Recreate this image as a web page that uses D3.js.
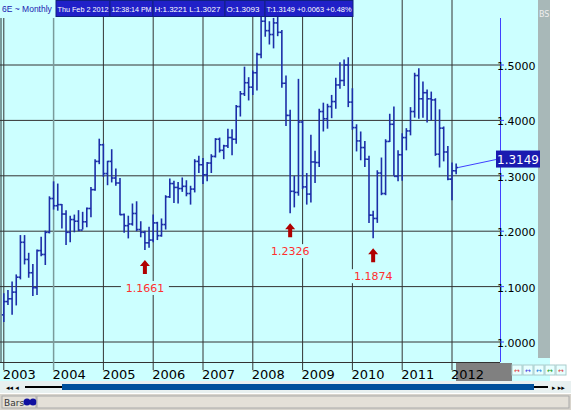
<!DOCTYPE html>
<html><head><meta charset="utf-8">
<script src="https://cdn.jsdelivr.net/npm/d3@7"></script>
<style>body{margin:0;background:#fff;font-family:"DejaVu Sans",sans-serif}</style>
</head><body><svg id="chart" width="571" height="410"></svg>
<script>
// monthly bars from Jan 2003: open, high, low, close
const opens  = [1.049,1.073,1.078,1.090,1.117,1.180,1.149,1.125,1.098,1.165,1.158,1.198,
 1.259,1.246,1.248,1.231,1.198,1.221,1.218,1.202,1.217,1.241,1.275,1.326,
 1.356,1.304,1.326,1.296,1.287,1.230,1.210,1.213,1.232,1.203,1.198,1.179,
 1.184,1.215,1.192,1.212,1.262,1.286,1.279,1.277,1.281,1.268,1.276,1.326,
 1.320,1.302,1.323,1.335,1.366,1.346,1.354,1.369,1.366,1.425,1.448,1.468,
 1.460,1.486,1.519,1.579,1.562,1.555,1.576,1.559,1.467,1.409,1.272,1.270,
 1.397,1.280,1.267,1.325,1.324,1.416,1.403,1.425,1.434,1.464,1.472,1.500,
 1.433,1.387,1.363,1.351,1.330,1.229,1.223,1.305,1.268,1.362,1.393,1.299,
 1.338,1.369,1.381,1.416,1.481,1.439,1.450,1.439,1.437,1.339,1.386,1.343,
 1.294,1.309];
const highs  = [1.088,1.094,1.109,1.122,1.193,1.193,1.161,1.141,1.167,1.190,1.201,1.263,
 1.290,1.286,1.249,1.238,1.228,1.230,1.238,1.235,1.243,1.280,1.330,1.367,
 1.358,1.327,1.348,1.313,1.296,1.232,1.228,1.250,1.254,1.218,1.201,1.208,
 1.230,1.217,1.223,1.265,1.295,1.291,1.289,1.297,1.292,1.282,1.330,1.336,
 1.332,1.325,1.339,1.368,1.369,1.356,1.385,1.384,1.428,1.453,1.497,1.478,
 1.490,1.522,1.590,1.602,1.579,1.585,1.604,1.563,1.481,1.419,1.300,1.475,
 1.400,1.305,1.374,1.345,1.421,1.432,1.430,1.446,1.477,1.505,1.510,1.514,
 1.458,1.393,1.380,1.363,1.336,1.237,1.310,1.333,1.366,1.412,1.425,1.346,
 1.377,1.386,1.424,1.486,1.494,1.470,1.456,1.452,1.440,1.420,1.389,1.354,
 1.324,1.3221];
const lows   = [1.036,1.067,1.049,1.066,1.113,1.140,1.116,1.083,1.085,1.155,1.139,1.196,
 1.239,1.237,1.205,1.175,1.180,1.198,1.200,1.203,1.207,1.225,1.273,1.321,
 1.298,1.283,1.288,1.282,1.229,1.197,1.187,1.210,1.200,1.189,1.1661,1.170,
 1.180,1.184,1.190,1.203,1.260,1.251,1.250,1.271,1.263,1.248,1.270,1.305,
 1.285,1.290,1.305,1.333,1.342,1.330,1.350,1.337,1.358,1.407,1.444,1.436,
 1.446,1.454,1.512,1.551,1.537,1.530,1.552,1.459,1.390,1.2326,1.243,1.264,
 1.276,1.248,1.252,1.287,1.316,1.380,1.385,1.404,1.421,1.457,1.462,1.424,
 1.383,1.344,1.328,1.316,1.215,1.1874,1.215,1.265,1.265,1.361,1.300,1.290,
 1.291,1.346,1.373,1.405,1.403,1.405,1.396,1.400,1.336,1.315,1.326,1.292,
 1.256,1.3027];
const closes = [1.073,1.078,1.090,1.117,1.180,1.149,1.125,1.098,1.165,1.158,1.198,1.259,
 1.246,1.248,1.231,1.198,1.221,1.218,1.202,1.217,1.241,1.275,1.326,1.356,
 1.304,1.326,1.296,1.287,1.230,1.210,1.213,1.232,1.203,1.198,1.179,1.184,
 1.215,1.192,1.212,1.262,1.286,1.279,1.277,1.281,1.268,1.276,1.326,1.320,
 1.302,1.323,1.335,1.366,1.346,1.354,1.369,1.366,1.425,1.448,1.468,1.460,
 1.486,1.519,1.579,1.562,1.555,1.576,1.559,1.467,1.409,1.272,1.270,1.397,
 1.280,1.267,1.325,1.324,1.416,1.403,1.425,1.434,1.464,1.472,1.500,1.433,
 1.387,1.363,1.351,1.330,1.229,1.223,1.305,1.268,1.362,1.393,1.299,1.338,
 1.369,1.381,1.416,1.481,1.439,1.450,1.439,1.437,1.339,1.386,1.343,1.294,
 1.309,1.3149];
const years = [2003,2004,2005,2006,2007,2008,2009,2010,2011,2012];
const priceTicks = [1.0,1.1,1.2,1.3,1.4,1.5];
const lowMarks = [34, 69, 89]; // month index of marked lows

const svg = d3.select("#chart");
const x = d3.scaleLinear().domain([0, 108]).range([3.8, 452]);
const y = d3.scaleLinear().domain([1.0, 1.5]).range([342, 65]);

svg.append("rect").attr("width",571).attr("height",410).attr("fill","#fff");
svg.append("rect").attr("x",0).attr("y",0).attr("width",550).attr("height",381).attr("fill","#ccffff");
svg.append("line").attr("x1",1).attr("x2",1).attr("y1",0).attr("y2",362).attr("stroke","#7a9a9a").attr("stroke-width",2);

const g = svg.append("g");
// grid
g.selectAll(".hg").data(priceTicks).enter().append("line")
  .attr("x1",0).attr("x2",500).attr("y1",d=>y(d)).attr("y2",d=>y(d))
  .attr("stroke","#333").attr("stroke-width",1);
g.append("line").attr("x1",0).attr("x2",500).attr("y1",362.5).attr("y2",362.5).attr("stroke","#333");
g.selectAll(".vg").data(years).enter().append("line")
  .attr("x1",d=>x((d-2003)*12)).attr("x2",d=>x((d-2003)*12))
  .attr("y1",0).attr("y2",370)
  .attr("stroke",d=>d===2004?"#7a9a9a":"#333").attr("stroke-width",d=>d===2004?1.5:1);

// right axis panel
svg.append("line").attr("x1",500.5).attr("x2",500.5).attr("y1",18).attr("y2",362).attr("stroke","#4040ff");
svg.append("rect").attr("x",538).attr("y",0).attr("width",12).attr("height",358).attr("fill","#a8b8b8");
svg.append("text").attr("x",539).attr("y",17).attr("font-size",8).attr("fill","#eee").text("BS");
svg.selectAll(".yl").data(priceTicks).enter().append("text")
  .attr("x",497).attr("y",d=>y(d)+5).attr("font-size",11).attr("fill","#000")
  .text(d=>"  " + d.toFixed(4));
svg.selectAll(".yt").data(priceTicks).enter().append("line")
  .attr("x1",500).attr("x2",504).attr("y1",d=>y(d)).attr("y2",d=>y(d)).attr("stroke","#4040ff");

// bars
const bars = g.selectAll(".bar").data(d3.range(opens.length)).enter().append("g").attr("stroke","#1c2ea8").attr("stroke-width",1.6);
bars.append("line").attr("x1",i=>x(i)).attr("x2",i=>x(i)).attr("y1",i=>y(highs[i])).attr("y2",i=>y(lows[i]));
bars.append("line").attr("x1",i=>x(i)-2).attr("x2",i=>x(i)).attr("y1",i=>y(opens[i])).attr("y2",i=>y(opens[i]));
bars.append("line").attr("x1",i=>x(i)).attr("x2",i=>x(i)+2).attr("y1",i=>y(closes[i])).attr("y2",i=>y(closes[i]));

// low markers
lowMarks.forEach(i => {
  const cx = x(i), ty = y(lows[i]) + 10;
  svg.append("path").attr("fill","#b00000")
    .attr("d",`M${cx},${ty} L${cx+5},${ty+6} L${cx+2},${ty+6} L${cx+2},${ty+14} L${cx-2},${ty+14} L${cx-2},${ty+6} L${cx-5},${ty+6}Z`);
  svg.append("rect").attr("x",cx-24).attr("y",ty+21).attr("width",48).attr("height",14).attr("fill","#ccffff");
  svg.append("text").attr("x",cx).attr("y",ty+32).attr("text-anchor","middle")
    .attr("font-size",11).attr("fill","#ff3030").text(lows[i].toFixed(4));
});

// last price box
const last = closes[closes.length-1];
svg.append("line").attr("x1",x(opens.length-1)+2).attr("x2",496).attr("y1",y(last)).attr("y2",y(last)-8).attr("stroke","#4040ff");
svg.append("rect").attr("x",496).attr("y",y(last)-17).attr("width",44).attr("height",17).attr("fill","#1a1ab0");
svg.append("text").attr("x",518).attr("y",y(last)-4).attr("text-anchor","middle").attr("font-size",12).attr("fill","#fff").text(last.toFixed(4));

// header
svg.append("rect").attr("x",0).attr("y",0).attr("width",56).attr("height",18).attr("fill","#ccffff");
svg.append("text").attr("x",2).attr("y",12).attr("font-size",8.5).attr("font-family","Liberation Sans").attr("fill","#1a1ab0").text("6E ~ Monthly");
const hdr = [["Thu Feb 2 2012",56,54],["12:38:14 PM",110,43],["H:1.3221  L:1.3027",153,72],["O:1.3093",225,40],["T:1.3149  +0.0063  +0.48%",265,88]];
hdr.forEach(([t,x0,w]) => {
  svg.append("rect").attr("x",x0).attr("y",0.5).attr("width",w).attr("height",16).attr("fill","#2020c8").attr("stroke","#102080");
  const tx = svg.append("text").attr("x",x0+1.5).attr("y",12).attr("font-size",8).attr("font-family","Liberation Sans")
    .attr("fill","#fff").text(t);
  if (tx.node().getComputedTextLength() > w-3)
    tx.attr("textLength",w-3).attr("lengthAdjust","spacingAndGlyphs");
});

// year labels
svg.selectAll(".xl").data(years.slice(0,-1)).enter().append("text")
  .attr("x",d=>x((d-2003)*12)-1).attr("y",379).attr("font-size",13).attr("fill","#000")
  .text(d=>d);
svg.append("rect").attr("x",456).attr("y",363).attr("width",56).attr("height",18).attr("fill","#808080");
svg.append("text").attr("x",x(108)-1).attr("y",379).attr("font-size",13).attr("fill","#000").text(years[9]);
["#e04040","#4040e0","#2080e0","#20a020","#e04040"].forEach((c,k)=>{
  svg.append("rect").attr("x",512+k*11).attr("y",365).attr("width",10).attr("height",10).attr("fill","#e8ffff").attr("stroke","#aacccc");
  svg.append("text").attr("x",517+k*11).attr("y",373).attr("text-anchor","middle").attr("font-size",7).attr("fill",c).text("↔");
});

// scrollbar + status
svg.append("rect").attr("x",0).attr("y",381).attr("width",571).attr("height",12).attr("fill","#e8f0f0");
svg.append("line").attr("x1",25).attr("x2",548).attr("y1",387).attr("y2",387).attr("stroke","#000").attr("stroke-width",2);
svg.append("rect").attr("x",62).attr("y",384).attr("width",472).attr("height",6).attr("fill","#00509c");
svg.append("text").attr("x",6).attr("y",390).attr("font-size",7).text("◂◂   ◂");
svg.append("text").attr("x",552).attr("y",390).attr("font-size",7).text("▸  ▸▸");
svg.append("rect").attr("x",0).attr("y",394).attr("width",571).attr("height",16).attr("fill","#d8d4cc");
svg.append("rect").attr("x",2).attr("y",396).attr("width",34).attr("height",12).attr("fill","#e4e0d8").attr("stroke","#aaa");
svg.append("text").attr("x",4).attr("y",406).attr("font-size",9).attr("fill","#333").text("Bars");
svg.append("circle").attr("cx",27).attr("cy",402).attr("r",3.5).attr("fill","#1010a0");
svg.append("circle").attr("cx",33).attr("cy",402).attr("r",3.5).attr("fill","#1010a0");
svg.append("rect").attr("x",37).attr("y",396).attr("width",532).attr("height",12).attr("fill","#e4e0d8").attr("stroke","#aaa");
</script></body></html>
